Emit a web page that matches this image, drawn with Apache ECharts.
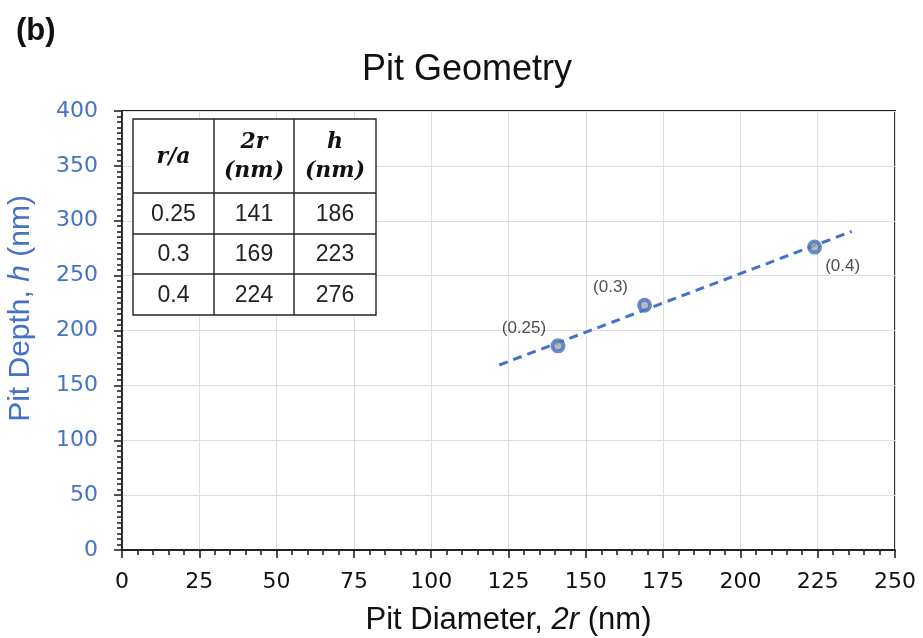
<!DOCTYPE html>
<html>
<head>
<meta charset="utf-8">
<title>Pit Geometry</title>
<script src="https://cdn.jsdelivr.net/npm/echarts@6/dist/echarts.min.js"></script>
<style>
  html, body { margin: 0; padding: 0; background: #fff; }
  #chart { width: 923px; height: 638px; }
</style>
</head>
<body>
<div id="chart"></div>
<script>
// Measured pits: normalised radius r/a, diameter 2r and depth h (nm)
const ratioLabels = ['0.25', '0.3', '0.4'];
const diameters = [141, 169, 224];
const depths = [186, 223, 276];
// Where each point's label sits relative to the marker
const labelSides = ['upperLeft', 'upperLeft', 'lowerRight'];
// Horizontal extent of the dashed linear trend line
const trendRange = [122, 236];
// Table header columns
const tableHeads = [['r/a'], ['2r', '(nm)'], ['h', '(nm)']];

const BLUE = '#4472C4';
const SANS = '"Liberation Sans", Arial, sans-serif';
const NUM = '"DejaVu Sans", sans-serif';

// Least-squares fit of depth vs diameter
function linearFit(xs, ys) {
  const n = xs.length;
  const mx = xs.reduce((a, b) => a + b, 0) / n;
  const my = ys.reduce((a, b) => a + b, 0) / n;
  let sxy = 0, sxx = 0;
  for (let i = 0; i < n; i++) {
    sxy += (xs[i] - mx) * (ys[i] - my);
    sxx += (xs[i] - mx) * (xs[i] - mx);
  }
  const k = sxy / sxx;
  return { k, b: my - k * mx };
}
const fit = linearFit(diameters, depths);
const trendData = trendRange.map(x => [x, fit.k * x + fit.b]);

const pointData = diameters.map((x, i) => {
  const upper = labelSides[i] === 'upperLeft';
  return {
    value: [x, depths[i]],
    label: {
      show: true,
      formatter: '(' + ratioLabels[i] + ')',
      position: 'inside',
      offset: upper ? [-34, -18] : [28, 19],
      color: '#222',
      fontSize: 17,
      fontFamily: SANS
    }
  };
});

// Inset table drawn with graphic elements
const tableLeft = 133, tableTop = 119;
const colW = [81, 80, 82];
const rowH = [74, 41, 40, 41];
const tableRows = ratioLabels.map((r, i) => [r, String(diameters[i]), String(depths[i])]);
const tableEls = [];
const totalW = colW.reduce((a, b) => a + b, 0);
const totalH = rowH.reduce((a, b) => a + b, 0);
const lineStyle = { stroke: '#222', lineWidth: 1.4 };
tableEls.push({
  type: 'rect', z: 100,
  shape: { x: tableLeft, y: tableTop, width: totalW, height: totalH },
  style: { fill: '#fff', stroke: '#222', lineWidth: 1.4 }
});
let cx = tableLeft;
for (let c = 0; c < colW.length - 1; c++) {
  cx += colW[c];
  tableEls.push({ type: 'line', z: 101, shape: { x1: cx, y1: tableTop, x2: cx, y2: tableTop + totalH }, style: lineStyle });
}
let cy = tableTop;
for (let r = 0; r < rowH.length - 1; r++) {
  cy += rowH[r];
  tableEls.push({ type: 'line', z: 101, shape: { x1: tableLeft, y1: cy, x2: tableLeft + totalW, y2: cy }, style: lineStyle });
}
// header cells
let hx = tableLeft;
tableHeads.forEach((lines, c) => {
  tableEls.push({
    type: 'text', z: 102,
    style: {
      x: hx + colW[c] / 2, y: tableTop + rowH[0] / 2 + 1,
      text: lines.join('\n'),
      align: 'center', verticalAlign: 'middle',
      font: 'italic bold 22px "DejaVu Serif", "Liberation Serif", serif',
      lineHeight: 29,
      fill: '#111'
    }
  });
  hx += colW[c];
});
// body cells
let ry = tableTop + rowH[0];
tableRows.forEach((row, r) => {
  let bx = tableLeft;
  row.forEach((txt, c) => {
    tableEls.push({
      type: 'text', z: 102,
      style: {
        x: bx + colW[c] / 2, y: ry + rowH[r + 1] / 2 + 1,
        text: txt, align: 'center', verticalAlign: 'middle',
        font: '23px "Liberation Sans", Arial, sans-serif',
        fill: '#222'
      }
    });
    bx += colW[c];
  });
  ry += rowH[r + 1];
});

const chart = echarts.init(document.getElementById('chart'), null, { renderer: 'canvas' });
chart.setOption({
  backgroundColor: '#fff',
  animation: false,
  textStyle: { fontFamily: SANS },
  title: [
    {
      text: 'Pit Geometry',
      left: 462, top: 47, textAlign: 'center',
      textStyle: { fontSize: 36, fontWeight: 'normal', color: '#111', fontFamily: SANS }
    },
    {
      text: '(b)',
      left: 11, top: 11,
      textStyle: { fontSize: 31, fontWeight: 'bold', color: '#111', fontFamily: SANS }
    }
  ],
  grid: {
    left: 122, right: 28, top: 111, bottom: 88,
    outerBoundsMode: 'none',
    containLabel: false,
    show: true, borderColor: '#222', borderWidth: 1.8, backgroundColor: 'transparent'
  },
  xAxis: {
    type: 'value', min: 0, max: 250, interval: 25,
    name: '{n|Pit Diameter, }{i|2r}{n| (nm)}',
    nameLocation: 'middle', nameGap: 55,
    nameTextStyle: {
      rich: {
        n: { fontSize: 31, color: '#111', fontFamily: SANS },
        i: { fontSize: 31, color: '#111', fontStyle: 'italic', fontFamily: SANS }
      }
    },
    axisLine: { show: true, lineStyle: { color: '#222', width: 1.8 } },
    axisTick: { show: true, length: 8, lineStyle: { color: '#222', width: 1.6 } },
    minorTick: { show: true, splitNumber: 5, length: 5, lineStyle: { color: '#222', width: 1.6 } },
    axisLabel: { fontSize: 22, color: '#111', margin: 21, fontFamily: NUM },
    splitLine: { show: true, lineStyle: { color: '#dedede', width: 1 } }
  },
  yAxis: {
    type: 'value', min: 0, max: 400, interval: 50,
    name: '{n|Pit Depth, }{i|h}{n| (nm)}',
    nameLocation: 'middle', nameGap: 86, nameRotate: 90,
    nameTextStyle: {
      padding: [0, 0, 0, 44],
      rich: {
        n: { fontSize: 30, color: BLUE, fontFamily: SANS },
        i: { fontSize: 30, color: BLUE, fontStyle: 'italic', fontFamily: SANS }
      }
    },
    axisLine: { show: true, lineStyle: { color: '#222', width: 1.8 } },
    axisTick: { show: true, length: 8, lineStyle: { color: '#222', width: 1.6 } },
    minorTick: { show: true, splitNumber: 10, length: 5, lineStyle: { color: '#222', width: 1.6 } },
    axisLabel: { fontSize: 22, color: BLUE, margin: 24, fontFamily: NUM },
    splitLine: { show: true, lineStyle: { color: '#dedede', width: 1 } }
  },
  series: [
    {
      type: 'line',
      data: trendData,
      symbol: 'none',
      lineStyle: { color: BLUE, width: 3, type: [9, 6] },
      silent: true,
      z: 2
    },
    {
      type: 'scatter',
      data: pointData,
      symbol: 'circle',
      symbolSize: 11,
      itemStyle: { color: '#a8a8a8', borderColor: BLUE, borderWidth: 4 },
      z: 3
    }
  ],
  graphic: tableEls
});
</script>
</body>
</html>
